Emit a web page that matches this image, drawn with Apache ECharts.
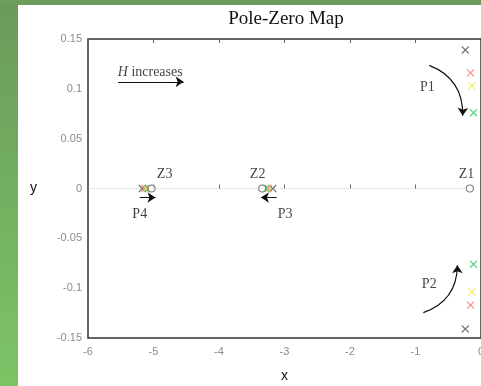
<!DOCTYPE html>
<html>
<head>
<meta charset="utf-8">
<script src="https://cdn.jsdelivr.net/npm/echarts@6/dist/echarts.min.js"></script>
<style>
  html, body { margin: 0; padding: 0; background: #fff; }
  #chart { width: 481px; height: 386px; }
</style>
</head>
<body>
<div id="chart"></div>
<script>
// poles for each gain step (P1 upper, P2 lower, P3, P4)
const polesGray = [[-0.24, 0.139], [-0.24, -0.141], [-3.18, 0], [-5.17, 0]];
const polesRed = [[-0.16, 0.116], [-0.16, -0.117], [-3.25, 0], [-5.13, 0]];
const polesYellow = [[-0.14, 0.103], [-0.14, -0.104], [-3.27, 0], [-5.11, 0]];
const polesGreen = [[-0.115, 0.076], [-0.115, -0.076], [-3.29, 0], [-5.08, 0]];
const zeros = [[-0.17, 0], [-3.34, 0], [-5.03, 0]];
const xTicks = [-6, -5, -4, -3, -2, -1, 0];
const yTicks = [-0.15, -0.1, -0.05, 0, 0.05, 0.1, 0.15];

// text notes [x, y, text]
const notes = [
  [-5.05, 0.117, '{i|H} increases'],
  [-0.82, 0.102, 'P1'],
  [-0.79, -0.096, 'P2'],
  [-2.99, -0.026, 'P3'],
  [-5.21, -0.026, 'P4'],
  [-0.22, 0.014, 'Z1'],
  [-3.41, 0.014, 'Z2'],
  [-4.83, 0.014, 'Z3']
];
// arrows [x1, y1, x2, y2, curveness]
const arrows = [
  [-5.54, 0.107, -4.54, 0.107, 0],
  [-5.21, -0.009, -4.97, -0.009, 0],
  [-3.12, -0.009, -3.36, -0.009, 0],
  [-0.79, 0.1235, -0.28, 0.073, 0.35],
  [-0.88, -0.1245, -0.36, -0.077, -0.35]
];

const cross = 'path://M0,0L10,10M10,0L0,10';
const chart = echarts.init(document.getElementById('chart'));

function poleSeries(data, color) {
  return {
    type: 'scatter',
    data: data,
    symbol: cross,
    symbolSize: 7,
    itemStyle: { color: 'none', borderColor: color, borderWidth: 1.2 },
    z: 5
  };
}

const axisText = { color: '#8c8c8c', fontSize: 11, fontFamily: 'Liberation Sans' };

const option = {
  animation: false,
  backgroundColor: '#fff',
  title: {
    text: 'Pole-Zero Map',
    left: 281,
    top: 5,
    textAlign: 'center',
    textStyle: { fontFamily: 'Liberation Serif', fontWeight: 'normal', fontSize: 19, color: '#111' }
  },
  graphic: [
    {
      type: 'rect', left: 0, top: 0, z: -10,
      shape: { width: 18, height: 386 },
      style: {
        fill: new echarts.graphic.LinearGradient(0, 0, 0, 1, [
          { offset: 0, color: '#6a9a5b' }, { offset: 1, color: '#7cc466' }
        ])
      }
    },
    {
      type: 'rect', left: 0, top: 0, z: -10,
      shape: { width: 481, height: 5 },
      style: { fill: '#6c9d5d' }
    }
  ],
  grid: {
    left: 88, top: 39, right: 0, bottom: 48,
    outerBoundsMode: 'none',
    show: true, borderColor: '#333', borderWidth: 1.5
  },
  xAxis: [{
    type: 'value', min: -6, max: 0, interval: 1,
    name: 'x', nameLocation: 'middle', nameGap: 31,
    nameTextStyle: { color: '#111', fontSize: 14, fontFamily: 'Liberation Sans' },
    axisLine: { show: false },
    axisTick: { show: true, inside: true, length: 4, lineStyle: { color: '#666' } },
    axisLabel: Object.assign({ margin: 8 }, axisText),
    splitLine: { show: false }
  }, {
    type: 'value', min: -6, max: 0, interval: 1, position: 'top',
    axisLine: { show: false },
    axisTick: { show: true, inside: true, length: 4, lineStyle: { color: '#666' } },
    axisLabel: { show: false },
    splitLine: { show: false }
  }],
  yAxis: {
    type: 'value', min: -0.15, max: 0.15, interval: 0.05,
    name: 'y', nameLocation: 'middle', nameGap: 51, nameRotate: 0,
    nameTextStyle: { color: '#111', fontSize: 14, fontFamily: 'Liberation Sans' },
    axisLine: { show: false },
    axisTick: { show: true, inside: true, length: 4, lineStyle: { color: '#666' } },
    axisLabel: Object.assign({
      margin: 6,
      formatter: v => String(Math.round(v * 100) / 100)
    }, axisText),
    splitLine: { show: false }
  },
  series: [
    {
      // dotted real axis up to Z1
      type: 'lines',
      coordinateSystem: 'cartesian2d',
      silent: true,
      symbol: 'none',
      lineStyle: { color: '#aaa', width: 1, type: 'dotted' },
      data: [{ coords: [[-6, 0], [zeros[0][0] - 0.05, 0]] }]
    },
    {
      type: 'lines',
      coordinateSystem: 'cartesian2d',
      silent: true,
      symbol: ['none', 'arrow'],
      symbolSize: 8,
      lineStyle: { color: '#111', width: 1.2, opacity: 1 },
      data: arrows.map(a => ({
        coords: [[a[0], a[1]], [a[2], a[3]]],
        lineStyle: { curveness: a[4] }
      })),
      z: 4
    },
    {
      type: 'scatter',
      data: zeros,
      symbol: 'circle',
      symbolSize: 7,
      itemStyle: { color: '#fff', borderColor: '#666', borderWidth: 1.2 },
      z: 6
    },
    poleSeries(polesGray, '#555'),
    poleSeries(polesRed, '#ff6b6b'),
    poleSeries(polesYellow, '#e8e84c'),
    poleSeries(polesGreen, '#2fcc5f'),
    {
      type: 'scatter',
      data: notes,
      symbolSize: 0,
      silent: true,
      label: {
        show: true,
        position: 'inside',
        formatter: p => p.data[2],
        color: '#111',
        fontFamily: 'Liberation Serif',
        fontSize: 14,
        rich: { i: { fontStyle: 'italic', fontFamily: 'Liberation Serif', fontSize: 14, color: '#111' } }
      }
    }
  ]
};
chart.setOption(option);
</script>
</body>
</html>
